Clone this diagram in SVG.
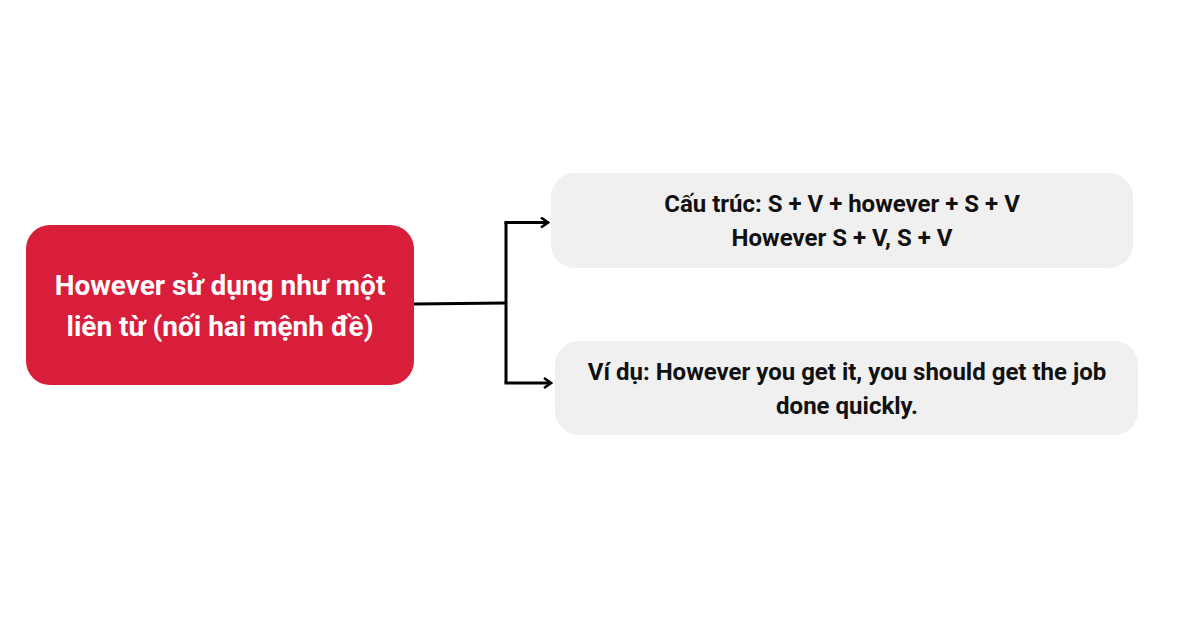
<svg xmlns="http://www.w3.org/2000/svg" width="1200" height="628" viewBox="0 0 1200 628">
<style>
.t{font-family:Roboto,"Noto Sans",sans-serif;font-weight:700;text-anchor:middle}
.w{fill:#ffffff;font-size:28px}
.k{fill:#111111;font-size:24px}
.c{fill:none;stroke:#000;stroke-width:3}
</style>
<defs>
<marker id="ah" markerWidth="10" markerHeight="12" refX="8" refY="6" orient="auto" markerUnits="userSpaceOnUse">
<path d="M1,1 L8,6 L1,11" fill="none" stroke="#000" stroke-width="2.6"/>
</marker>
</defs>
<rect width="1200" height="628" fill="#ffffff"/>
<g id="connectors">
<path class="c" d="M414,304 L506,303"/>
<path class="c" d="M506,222 L506,383"/>
<path class="c" d="M504.5,222.5 L548,222.5" marker-end="url(#ah)"/>
<path class="c" d="M504.5,383 L551,383" marker-end="url(#ah)"/>
</g>
<g id="main">
<rect x="26" y="225" width="388" height="160" rx="24" fill="#d81e3a"/>
<text class="t w" x="220" y="295">However sử dụng như một</text>
<text class="t w" x="220" y="336">liên từ (nối hai mệnh đề)</text>
</g>
<g id="structure">
<rect x="551" y="173" width="582" height="95" rx="24" fill="#f0f0f0"/>
<text class="t k" x="842" y="212">Cấu trúc: S + V + however + S + V</text>
<text class="t k" x="842" y="246">However S + V, S + V</text>
</g>
<g id="example">
<rect x="555" y="341" width="583" height="94" rx="24" fill="#f0f0f0"/>
<text class="t k" x="847" y="380">Ví dụ: However you get it, you should get the job</text>
<text class="t k" x="847" y="414">done quickly.</text>
</g>
</svg>
